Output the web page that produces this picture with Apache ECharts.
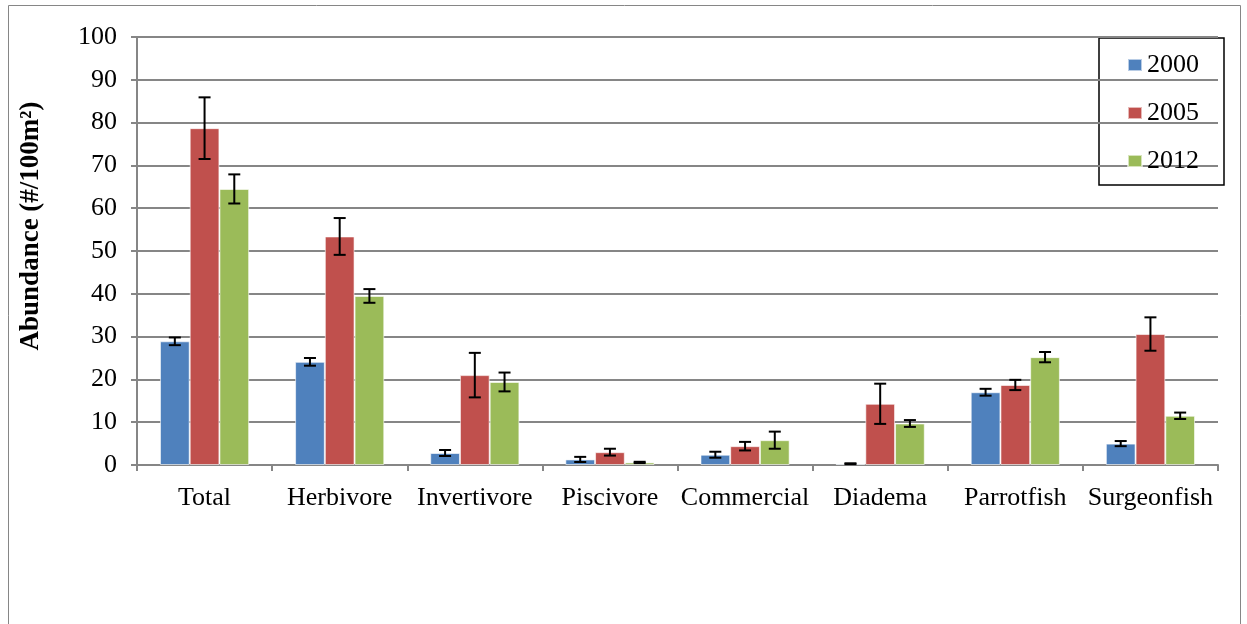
<!DOCTYPE html>
<html><head><meta charset="utf-8">
<script src="https://cdn.jsdelivr.net/npm/echarts@6/dist/echarts.min.js"></script>
<style>html,body{margin:0;padding:0;background:#fff}#c{width:1247px;height:624px}</style>
</head><body><div id="c"></div>
<script>
const categories = ['Total','Herbivore','Invertivore','Piscivore','Commercial','Diadema','Parrotfish','Surgeonfish'];
const years = ['2000','2005','2012'];
const v2000 = [28.9, 24.1, 2.8, 1.3, 2.4, 0.3, 17.0, 5.0];
const v2005 = [78.7, 53.4, 21.0, 3.0, 4.4, 14.3, 18.7, 30.6];
const v2012 = [64.5, 39.5, 19.4, 0.6, 5.8, 9.7, 25.2, 11.5];
const e2000 = [0.9, 0.9, 0.7, 0.6, 0.7, 0.1, 0.8, 0.6];
const e2005 = [7.2, 4.3, 5.2, 0.8, 1.0, 4.7, 1.2, 3.9];
const e2012 = [3.4, 1.6, 2.2, 0.15, 2.0, 0.8, 1.2, 0.75];
const yTicks = [0,10,20,30,40,50,60,70,80,90,100];

const values = [v2000, v2005, v2012];
const errors = [e2000, e2005, e2012];
const colors = ['#4F81BD', '#C0504D', '#9BBB59'];
const catGap = 0.34;
const font = '"Liberation Serif", "Times New Roman", serif';

const chart = echarts.init(document.getElementById('c'));
const series = [];
years.forEach((y, i) => {
  series.push({
    name: y, type: 'bar', data: values[i], barGap: '0%', barCategoryGap: (catGap*100)+'%',
    itemStyle: { color: colors[i], borderColor: 'rgba(255,255,255,0.6)', borderWidth: 1 },
    z: 2
  });
});
years.forEach((y, i) => {
  series.push({
    type: 'custom', name: y + ' err', z: 5, silent: true,
    data: categories.map((c, k) => [k, values[i][k], errors[i][k]]),
    renderItem: function (params, api) {
      const k = api.value(0), v = api.value(1), e = api.value(2);
      const band = api.size([1, 0])[0];
      const bw = band * (1 - catGap) / 3;
      const center = api.coord([k, v]);
      const x = center[0] + (i - 1) * bw;
      const top = api.coord([k, v + e])[1];
      const bot = api.coord([k, Math.max(0, v - e)])[1];
      const cap = 6;
      const st = { stroke: '#000', lineWidth: 2 };
      return { type: 'group', children: [
        { type: 'line', shape: { x1: x, y1: top, x2: x, y2: bot }, style: st },
        { type: 'line', shape: { x1: x - cap, y1: top, x2: x + cap, y2: top }, style: st },
        { type: 'line', shape: { x1: x - cap, y1: bot, x2: x + cap, y2: bot }, style: st }
      ]};
    }
  });
});

chart.setOption({
  animation: false,
  backgroundColor: '#fff',
  textStyle: { fontFamily: font },
  grid: { left: 137, right: 29, top: 37, bottom: 159, containLabel: false },
  legend: {
    data: years, orient: 'vertical', left: 1122, top: 47,
    itemWidth: 14, itemHeight: 12, itemGap: 22, icon: 'rect',
    textStyle: { fontFamily: font, fontSize: 26, color: '#000' }
  },
  xAxis: {
    type: 'category', data: categories,
    axisLine: { lineStyle: { color: '#868686', width: 2 } },
    axisTick: { show: true, length: 6, lineStyle: { color: '#868686', width: 2 } },
    axisLabel: { fontFamily: font, fontSize: 26, color: '#000', margin: 20, interval: 0 },
    splitLine: { show: false }
  },
  yAxis: {
    type: 'value', min: 0, max: 100, interval: 10,
    name: 'Abundance (#/100m²)', nameLocation: 'middle', nameGap: 92,
    nameTextStyle: { fontFamily: font, fontSize: 27, fontWeight: 'bold', color: '#000', padding: [0, 0, 0, 50] },
    axisLine: { show: true, lineStyle: { color: '#868686', width: 2 } },
    axisTick: { show: true, length: 6, lineStyle: { color: '#868686', width: 2 } },
    axisLabel: { fontFamily: font, fontSize: 26, color: '#000', margin: 20,
      formatter: v => yTicks.includes(v) ? String(v) : '' },
    splitLine: { lineStyle: { color: '#868686', width: 2 } }
  },
  graphic: [
    { type: 'rect', shape: { x: 8.5, y: 5.5, width: 1232, height: 640 }, style: { fill: 'none', stroke: '#868686', lineWidth: 1 }, z: -1, silent: true },
    { type: 'rect', shape: { x: 1099, y: 38, width: 125, height: 147 }, style: { fill: '#fff', stroke: '#000', lineWidth: 1.5 }, z: 0, silent: true }
  ],
  series: series
});
</script></body></html>
